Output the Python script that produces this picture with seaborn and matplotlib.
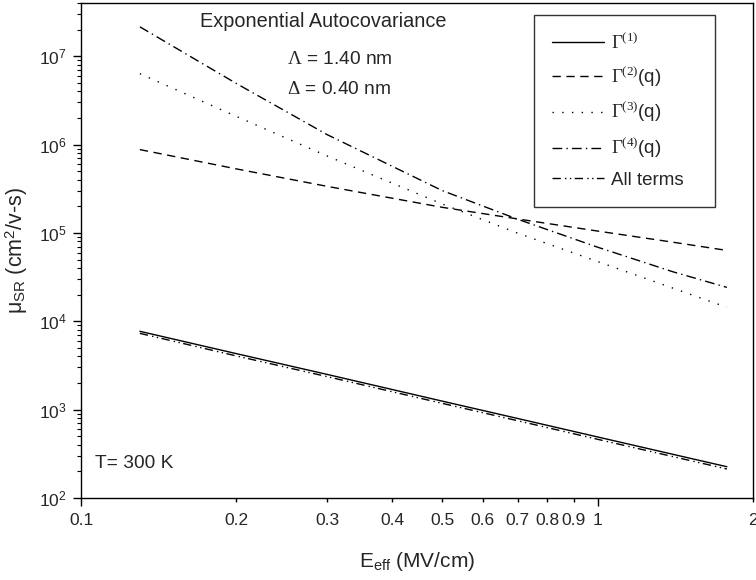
import numpy as np
import pandas as pd
import matplotlib
matplotlib.use("Agg")
import matplotlib.pyplot as plt
import matplotlib.ticker as mticker
import seaborn as sns

# ---- data ----
e_eff = [0.13, 0.2, 0.3, 0.5, 0.7, 1.0, 1.4, 1.78]
gamma1 = [7.7e3, 4.3e3, 2.5e3, 1.25e3, 795, 491, 312, 226]
gamma2 = [8.77e5, 5.3e5, 3.36e5, 1.95e5, 1.44e5, 1.05e5, 7.85e4, 6.34e4]
gamma3 = [6.34e6, 2.08e6, 7.4e5, 2.13e5, 9.95e4, 4.75e4, 2.37e4, 1.44e4]
gamma4 = [2.15e7, 4.9e6, 1.29e6, 3.02e5, 1.43e5, 6.9e4, 3.63e4, 2.42e4]
all_terms = [7.3e3, 4.05e3, 2.36e3, 1.18e3, 750, 462, 294, 213]

series_names = [r"$\Gamma^{(1)}$", r"$\Gamma^{(2)}$(q)", r"$\Gamma^{(3)}$(q)",
                r"$\Gamma^{(4)}$(q)", "All terms"]
x_major = [0.1, 1]
x_major_labels = ["0.1", "1"]
x_minor = [0.2, 0.3, 0.4, 0.5, 0.6, 0.7, 0.8, 0.9, 2]
x_minor_labels = ["0.2", "0.3", "0.4", "0.5", "0.6", "0.7", "0.8", "0.9", "2"]

frames = []
for name, vals in zip(series_names, [gamma1, gamma2, gamma3, gamma4, all_terms]):
    frames.append(pd.DataFrame({"E": e_eff, "mu": vals, "series": name}))
df = pd.concat(frames, ignore_index=True)

sns.set_theme(style="white")
plt.rcParams["font.family"] = ["Liberation Sans", "DejaVu Sans"]
plt.rcParams["mathtext.fontset"] = "custom"
plt.rcParams["mathtext.rm"] = "Liberation Serif"
plt.rcParams["mathtext.it"] = "Liberation Serif:italic"
plt.rcParams["mathtext.sf"] = "Liberation Sans"

fig = plt.figure(figsize=(7.56, 5.8), dpi=100)
ax = fig.add_axes([81 / 756, 1 - 498 / 580, 672 / 756, 495 / 580])

dashes = {
    series_names[0]: "",
    series_names[1]: (6, 4),
    series_names[2]: (1, 6),
    series_names[3]: (7, 3, 1, 3),
    series_names[4]: (6, 3, 1, 2.5, 1, 2.5),
}
sns.lineplot(data=df, x="E", y="mu", style="series", dashes=dashes,
             color="black", linewidth=1.0, ax=ax, legend=True)

ax.set_xscale("log")
ax.set_yscale("log")
ax.set_xlim(0.1, 2)
ax.set_ylim(1e2, 4e7)

ax.xaxis.set_major_locator(mticker.FixedLocator(x_major))
ax.xaxis.set_major_formatter(mticker.FixedFormatter(x_major_labels))
ax.xaxis.set_minor_locator(mticker.FixedLocator(x_minor))
ax.xaxis.set_minor_formatter(mticker.FixedFormatter(x_minor_labels))
ax.yaxis.set_major_locator(mticker.LogLocator(base=10, numticks=20))
ax.yaxis.set_minor_locator(mticker.LogLocator(base=10, subs=np.arange(2, 10), numticks=20))
ax.yaxis.set_minor_formatter(mticker.NullFormatter())

ax.tick_params(axis="both", which="major", direction="out", length=5.5, width=1,
               labelsize=12.5, color="black", bottom=True, left=True, top=False, right=False,
               pad=5)
ax.tick_params(axis="x", which="minor", direction="out", length=3, width=1,
               labelsize=12.5, color="black", bottom=True, top=False, pad=7.5)
ax.tick_params(axis="y", which="minor", direction="out", length=3, width=0.8,
               color="black", left=True, right=False)
for sp in ax.spines.values():
    sp.set_color("black")
    sp.set_linewidth(1.0)

ax.set_xlabel(r"E$_{\mathsf{eff}}$ (MV/cm)", fontsize=15, labelpad=16)
ax.set_ylabel(r"μ$_{\mathsf{SR}}$ (cm$^{\mathsf{2}}$/v-s)", fontsize=15.5, labelpad=6)

ax.text(0.36, 0.962, "Exponential Autocovariance", transform=ax.transAxes,
        fontsize=14.3, ha="center", va="center")
ax.text(0.307, 0.885, r"$\Lambda$ = 1.40 nm", transform=ax.transAxes,
        fontsize=13.8, ha="left", va="center")
ax.text(0.307, 0.826, r"$\Delta$ = 0.40 nm", transform=ax.transAxes,
        fontsize=13.8, ha="left", va="center")
ax.text(0.021, 0.07, "T= 300 K", transform=ax.transAxes,
        fontsize=13.8, ha="left", va="center")

handles, labels = ax.get_legend_handles_labels()
leg = ax.legend(handles, labels, loc="upper left",
                bbox_to_anchor=((534 - 81) / 672, (498 - 15) / 495, 181 / 672, 0.0),
                mode="expand",
                borderaxespad=0, frameon=True, fancybox=False, fontsize=13.5,
                handlelength=2.8, labelspacing=0.62, borderpad=0.95,
                handletextpad=0.35, edgecolor="black")
leg.get_frame().set_linewidth(1.0)

fig.savefig("out.png", dpi=100)
